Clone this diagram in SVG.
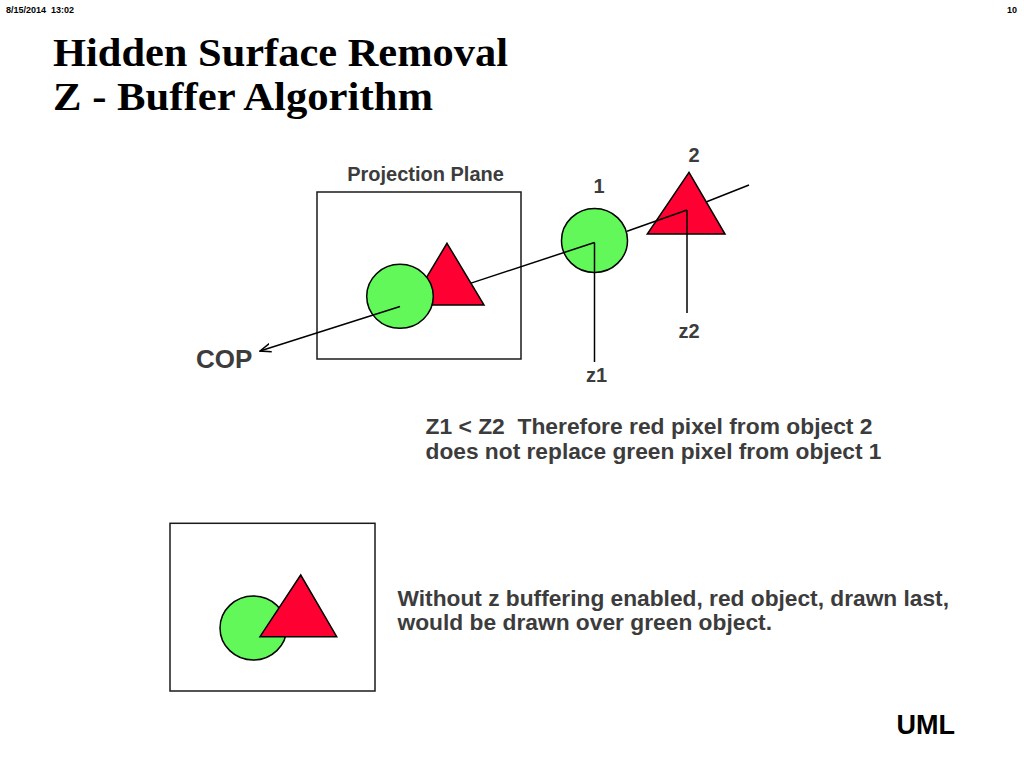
<svg xmlns="http://www.w3.org/2000/svg" width="1024" height="768" viewBox="0 0 1024 768">
  <defs>
    <style>
      .frame { fill: #ffffff; stroke: #1a1a1a; stroke-width: 1.5; }
      .green { fill: #63f85a; stroke: #000000; stroke-width: 1.5; }
      .red { fill: #ff0033; stroke: #000000; stroke-width: 1.5; stroke-linejoin: miter; }
      .conn { fill: none; stroke: #000000; stroke-width: 1.5; }
      .sans { font-family: "Liberation Sans", Arial, sans-serif; font-weight: bold; white-space: pre; }
      .gray { fill: #3c3c3c; }
      .title { font-family: "Liberation Serif", "Times New Roman", serif; font-weight: bold; font-size: 40px; fill: #000000; }
      .lbl { font-size: 20px; text-anchor: middle; }
      .para { font-size: 22px; }
    </style>
    <marker id="arrowOpen" viewBox="0 0 12 10" refX="11" refY="5" markerWidth="12" markerHeight="10" markerUnits="userSpaceOnUse" orient="auto">
      <path d="M0,0.8 L11,5 L0,9.2" fill="none" stroke="#000000" stroke-width="1.5"/>
    </marker>
  </defs>
  <rect width="1024" height="768" fill="#ffffff"/>

  <g id="header">
    <text class="sans" x="6" y="13" font-size="9" fill="#000000" xml:space="preserve">8/15/2014  13:02</text>
    <text class="sans" x="1012" y="13" font-size="9" fill="#000000" text-anchor="middle">10</text>
  </g>

  <g id="title">
    <text class="title" x="53" y="65.5" textLength="455" lengthAdjust="spacingAndGlyphs">Hidden Surface Removal</text>
    <text class="title" x="53" y="110" textLength="380" lengthAdjust="spacingAndGlyphs">Z - Buffer Algorithm</text>
  </g>

  <g id="projection-plane">
    <rect class="frame" x="317" y="192" width="204" height="167"/>
    <text class="sans gray lbl" x="425.5" y="180.5">Projection Plane</text>
  </g>

  <g id="object-2">
    <polygon class="red" points="689,172.3 725,234 647.3,234"/>
    <text class="sans gray lbl" x="694" y="161.5">2</text>
  </g>

  <g id="object-1">
    <ellipse class="green" cx="594.5" cy="240.5" rx="33" ry="32"/>
    <text class="sans gray lbl" x="599" y="192.5">1</text>
  </g>

  <g id="projected-objects">
    <polygon class="red" points="447,243.3 484,305 410,305"/>
    <ellipse class="green" cx="400" cy="296.3" rx="33.3" ry="32"/>
  </g>

  <g id="cop">
    <text class="sans gray" x="196" y="368" font-size="26">COP</text>
  </g>

  <g id="connectors">
    <line class="conn" x1="749" y1="185" x2="706" y2="202"/>
    <line class="conn" x1="687" y1="210" x2="627" y2="231.2"/>
    <line class="conn" x1="594.5" y1="242.5" x2="471" y2="283.1"/>
    <line class="conn" x1="400" y1="306.5" x2="260" y2="351" marker-end="url(#arrowOpen)"/>
    <line class="conn" x1="594.5" y1="242.5" x2="594.5" y2="362"/>
    <line class="conn" x1="687" y1="210" x2="687" y2="313"/>
  </g>

  <g id="depth-labels">
    <text class="sans gray lbl" x="596.5" y="382">z1</text>
    <text class="sans gray lbl" x="689" y="338">z2</text>
  </g>

  <g id="explanation">
    <text class="sans gray para" x="425.5" y="434" textLength="447" lengthAdjust="spacingAndGlyphs" xml:space="preserve">Z1 &lt; Z2  Therefore red pixel from object 2</text>
    <text class="sans gray para" x="425.5" y="458.5" textLength="456" lengthAdjust="spacingAndGlyphs">does not replace green pixel from object 1</text>
  </g>

  <g id="no-zbuffer-view">
    <rect class="frame" x="170" y="523.3" width="205" height="167.7"/>
    <ellipse class="green" cx="253.3" cy="628" rx="33.3" ry="32"/>
    <polygon class="red" points="300.7,575 336.7,636.7 260,636.7"/>
  </g>

  <g id="note">
    <text class="sans gray para" x="397.5" y="605.5" textLength="551.5" lengthAdjust="spacingAndGlyphs">Without z buffering enabled, red object, drawn last,</text>
    <text class="sans gray para" x="397.5" y="630" textLength="374.5" lengthAdjust="spacingAndGlyphs">would be drawn over green object.</text>
  </g>

  <g id="footer">
    <text class="sans" x="896.5" y="734" font-size="27" fill="#000000">UML</text>
  </g>
</svg>
